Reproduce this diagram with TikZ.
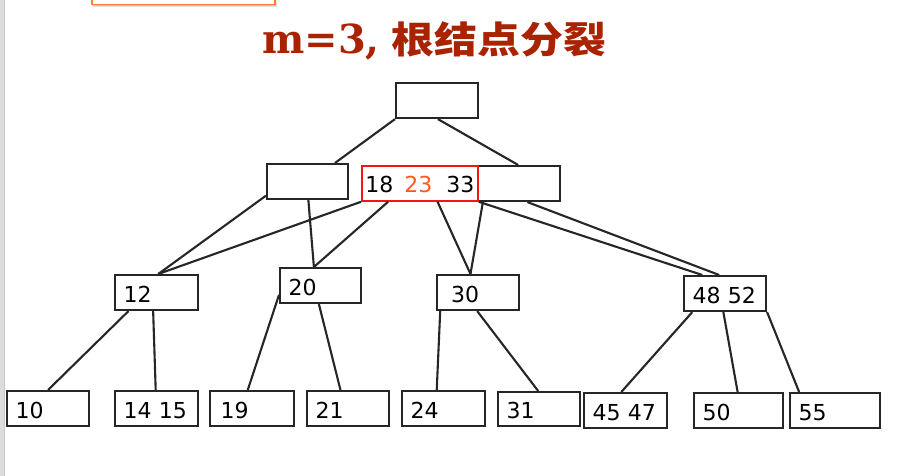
\documentclass[tikz,border=0pt]{standalone}
\usepackage{fontspec}
\usepackage{graphicx}
\usetikzlibrary{calc}
\newfontfamily\numfont{DejaVu Sans}
\newfontfamily\titlefont{DejaVu Serif}
\newfontfamily\cjkfont{Noto Sans CJK SC}
\definecolor{titlered}{RGB}{170,35,0}
\definecolor{hlorange}{RGB}{255,90,30}
\definecolor{boxred}{RGB}{245,20,20}
\definecolor{tabborder}{RGB}{250,125,70}
\definecolor{stripgray}{RGB}{220,220,220}
\definecolor{stripedge}{RGB}{200,200,200}
\tikzset{
  keybox/.style={draw=black!85, line width=2.1pt, rectangle, anchor=north west,
    minimum height=35pt, inner xsep=8.5pt, inner ysep=0pt, text width=#1,
    align=left, text height=20pt, text depth=1pt,
    font=\numfont\fontsize{22}{26}\selectfont},
  keybox/.default=65pt,
  redbox/.style={keybox=109pt, draw=boxred, line width=1.8pt, inner xsep=3.5pt},
  edge/.style={draw=black!85, line width=2.1pt}
}
\begin{document}
\begin{tikzpicture}[x=1pt,y=-1pt]
\useasboundingbox (0,0) rectangle (922,476);
\clip (0,0) rectangle (922,476);
\fill[white] (0,0) rectangle (922,476);
% left gray strip
\fill[stripgray] (0,0) rectangle (4.2,476);
\fill[stripedge] (4.2,0) rectangle (5.4,476);
% top tab with shadow
\fill[black!12] (94,-5) rectangle (277,7.5);
\fill[black!22] (93,-5) rectangle (276,6);
\draw[tabborder, line width=1.5pt, fill=white] (92,-10) rectangle (275,4.5);
% title
\node[anchor=base west, inner sep=0pt, text=titlered] (title) at (262,54)
  {{\titlefont\bfseries\fontsize{40}{44}\selectfont m=3,}\hspace{12pt}\scalebox{1.16}[1]{\cjkfont\bfseries\fontsize{37}{40}\selectfont 根结点分裂}};
% root
\node[keybox] (root) at (395,82) {};
% level 1
\node[keybox=64pt] (L) at (266,163) {};
\node[keybox] (E) at (477,165) {};
\node[redbox] (R) at (361,165) {18\hspace{10.9pt}\textcolor{hlorange}{23}\hspace{14pt}33};
% level 2
\node[keybox=66pt] (n12) at (114,274) {12};
\node[keybox=64pt] (n20) at (279,267) {20};
\node[keybox] (n30) at (436,274) {\hspace*{5.5pt}30};
\node[keybox] (n4852) at (683,275) {48 52};
% leaves
\node[keybox] (b10) at (6,390) {10};
\node[keybox=66pt] (b1415) at (114,390) {14 15};
\node[keybox=67pt] (b19) at (209,390) {\hspace*{2pt}19};
\node[keybox] (b21) at (306,390) {21};
\node[keybox=66pt] (b24) at (401,390) {24};
\node[keybox, minimum height=34pt] (b31) at (497,391) {31};
\node[keybox=66pt] (b4547) at (583,392) {45 47};
\node[keybox=72pt] (b50) at (693,392) {50};
\node[keybox=73pt] (b55) at (789,392) {55};
% connectors
\draw[edge] (root.south west) -- ($(L.north west)!0.83!(L.north east)$);
\draw[edge] ($(root.south west)!0.51!(root.south east)$) -- ($(E.north west)!0.49!(E.north east)$);
\draw[edge] ($(L.south west)!0.12!(L.north west)$) -- ($(n12.north west)!0.52!(n12.north east)$);
\draw[edge] (R.south west) -- ($(n12.north west)!0.52!(n12.north east)$);
\draw[edge] ($(L.south west)!0.51!(L.south east)$) -- ($(n20.north west)!0.42!(n20.north east)$);
\draw[edge] ($(R.south west)!0.23!(R.south east)$) -- ($(n20.north west)!0.42!(n20.north east)$);
\draw[edge] ($(R.south west)!0.65!(R.south east)$) -- ($(n30.north west)!0.41!(n30.north east)$);
\draw[edge] ($(E.south west)!0.07!(E.south east)$) -- ($(n30.north west)!0.41!(n30.north east)$);
\draw[edge] (R.south east) -- ($(n4852.north west)!0.23!(n4852.north east)$);
\draw[edge] ($(E.south west)!0.6!(E.south east)$) -- ($(n4852.north west)!0.43!(n4852.north east)$);
\draw[edge] ($(n12.south west)!0.17!(n12.south east)$) -- ($(b10.north west)!0.5!(b10.north east)$);
\draw[edge] ($(n12.south west)!0.46!(n12.south east)$) -- ($(b1415.north west)!0.49!(b1415.north east)$);
\draw[edge] ($(n20.south west)!0.25!(n20.north west)$) -- ($(b19.north west)!0.45!(b19.north east)$);
\draw[edge] ($(n20.south west)!0.48!(n20.south east)$) -- ($(b21.north west)!0.41!(b21.north east)$);
\draw[edge] ($(n30.south west)!0.05!(n30.south east)$) -- ($(b24.north west)!0.42!(b24.north east)$);
\draw[edge] ($(n30.south west)!0.49!(n30.south east)$) -- ($(b31.north west)!0.49!(b31.north east)$);
\draw[edge] ($(n4852.south west)!0.11!(n4852.south east)$) -- ($(b4547.north west)!0.45!(b4547.north east)$);
\draw[edge] ($(n4852.south west)!0.48!(n4852.south east)$) -- ($(b50.north west)!0.49!(b50.north east)$);
\draw[edge] (n4852.south east) -- ($(b55.north west)!0.11!(b55.north east)$);
\end{tikzpicture}
\end{document}
